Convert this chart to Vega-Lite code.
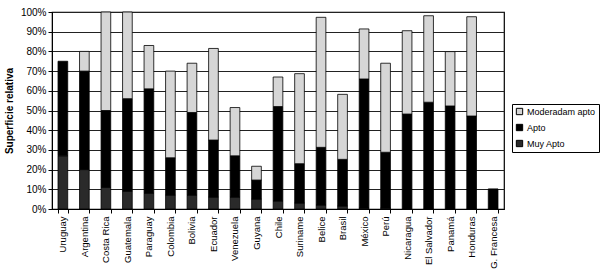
{
  "$schema": "https://vega.github.io/schema/vega-lite/v6.json",
  "autosize": {"type": "none"},
  "width": 452,
  "height": 197,
  "padding": {"left": 52, "top": 12, "right": 96, "bottom": 66},
  "background": "white",
  "config": {
    "font": "Liberation Sans",
    "view": {"stroke": "#000", "strokeWidth": 1.2}
  },
  "data": {"values": [
    {"pais": "Uruguay", "serie": "Muy Apto", "v": 27},
    {"pais": "Uruguay", "serie": "Apto", "v": 48},
    {"pais": "Uruguay", "serie": "Moderadam apto", "v": 0},
    {"pais": "Argentina", "serie": "Muy Apto", "v": 20},
    {"pais": "Argentina", "serie": "Apto", "v": 50},
    {"pais": "Argentina", "serie": "Moderadam apto", "v": 10},
    {"pais": "Costa Rica", "serie": "Muy Apto", "v": 11},
    {"pais": "Costa Rica", "serie": "Apto", "v": 39},
    {"pais": "Costa Rica", "serie": "Moderadam apto", "v": 50},
    {"pais": "Guatemala", "serie": "Muy Apto", "v": 9},
    {"pais": "Guatemala", "serie": "Apto", "v": 47},
    {"pais": "Guatemala", "serie": "Moderadam apto", "v": 44},
    {"pais": "Paraguay", "serie": "Muy Apto", "v": 8},
    {"pais": "Paraguay", "serie": "Apto", "v": 53},
    {"pais": "Paraguay", "serie": "Moderadam apto", "v": 22},
    {"pais": "Colombia", "serie": "Muy Apto", "v": 7},
    {"pais": "Colombia", "serie": "Apto", "v": 19},
    {"pais": "Colombia", "serie": "Moderadam apto", "v": 44},
    {"pais": "Bolivia", "serie": "Muy Apto", "v": 7},
    {"pais": "Bolivia", "serie": "Apto", "v": 42},
    {"pais": "Bolivia", "serie": "Moderadam apto", "v": 25},
    {"pais": "Ecuador", "serie": "Muy Apto", "v": 6},
    {"pais": "Ecuador", "serie": "Apto", "v": 29},
    {"pais": "Ecuador", "serie": "Moderadam apto", "v": 46.5},
    {"pais": "Venezuela", "serie": "Muy Apto", "v": 6},
    {"pais": "Venezuela", "serie": "Apto", "v": 21},
    {"pais": "Venezuela", "serie": "Moderadam apto", "v": 24.5},
    {"pais": "Guyana", "serie": "Muy Apto", "v": 5},
    {"pais": "Guyana", "serie": "Apto", "v": 9.7},
    {"pais": "Guyana", "serie": "Moderadam apto", "v": 7},
    {"pais": "Chile", "serie": "Muy Apto", "v": 4},
    {"pais": "Chile", "serie": "Apto", "v": 48},
    {"pais": "Chile", "serie": "Moderadam apto", "v": 15},
    {"pais": "Suriname", "serie": "Muy Apto", "v": 3},
    {"pais": "Suriname", "serie": "Apto", "v": 20},
    {"pais": "Suriname", "serie": "Moderadam apto", "v": 45.7},
    {"pais": "Belice", "serie": "Muy Apto", "v": 2},
    {"pais": "Belice", "serie": "Apto", "v": 29.3},
    {"pais": "Belice", "serie": "Moderadam apto", "v": 66},
    {"pais": "Brasil", "serie": "Muy Apto", "v": 1.5},
    {"pais": "Brasil", "serie": "Apto", "v": 23.7},
    {"pais": "Brasil", "serie": "Moderadam apto", "v": 33},
    {"pais": "México", "serie": "Muy Apto", "v": 0.5},
    {"pais": "México", "serie": "Apto", "v": 65.5},
    {"pais": "México", "serie": "Moderadam apto", "v": 25.4},
    {"pais": "Perú", "serie": "Muy Apto", "v": 0.5},
    {"pais": "Perú", "serie": "Apto", "v": 28.3},
    {"pais": "Perú", "serie": "Moderadam apto", "v": 45.2},
    {"pais": "Nicaragua", "serie": "Muy Apto", "v": 0},
    {"pais": "Nicaragua", "serie": "Apto", "v": 48.2},
    {"pais": "Nicaragua", "serie": "Moderadam apto", "v": 42.3},
    {"pais": "El Salvador", "serie": "Muy Apto", "v": 0},
    {"pais": "El Salvador", "serie": "Apto", "v": 54.2},
    {"pais": "El Salvador", "serie": "Moderadam apto", "v": 43.9},
    {"pais": "Panamá", "serie": "Muy Apto", "v": 0},
    {"pais": "Panamá", "serie": "Apto", "v": 52.3},
    {"pais": "Panamá", "serie": "Moderadam apto", "v": 27.6},
    {"pais": "Honduras", "serie": "Muy Apto", "v": 0},
    {"pais": "Honduras", "serie": "Apto", "v": 47.2},
    {"pais": "Honduras", "serie": "Moderadam apto", "v": 50.4},
    {"pais": "G. Francesa", "serie": "Muy Apto", "v": 0},
    {"pais": "G. Francesa", "serie": "Apto", "v": 10.2},
    {"pais": "G. Francesa", "serie": "Moderadam apto", "v": 0}
  ]},
  "transform": [
    {"filter": "datum.v > 0"},
    {"calculate": "indexof(['Muy Apto','Apto','Moderadam apto'], datum.serie)", "as": "orden"}
  ],
  "mark": {"type": "bar", "stroke": "#000", "strokeWidth": 0.8},
  "encoding": {
    "x": {
      "field": "pais", "type": "nominal", "sort": null,
      "scale": {"paddingInner": 0.55, "paddingOuter": 0.28},
      "axis": {
        "title": null, "labelAngle": -90, "labelFontSize": 9.5, "labelColor": "#000",
        "domainColor": "#000", "tickColor": "#000", "tickBand": "extent", "tickSize": 4,
        "labelPadding": 3
      }
    },
    "y": {
      "field": "v", "type": "quantitative", "stack": "zero",
      "scale": {"domain": [0, 100], "nice": false},
      "axis": {
        "title": "Superficie relativa", "titleFontSize": 10, "titleFontWeight": "bold",
        "titleColor": "#000", "titlePadding": 6,
        "values": [0, 10, 20, 30, 40, 50, 60, 70, 80, 90, 100],
        "labelExpr": "datum.value + '%'", "labelFontSize": 10, "labelColor": "#000",
        "grid": true, "gridColor": "#222", "gridWidth": 1,
        "domainColor": "#000", "tickColor": "#000", "tickSize": 4
      }
    },
    "color": {
      "field": "serie", "type": "nominal",
      "scale": {"domain": ["Moderadam apto", "Apto", "Muy Apto"], "range": ["#d6d6d6", "#000000", "#2a2a2a"]},
      "legend": {
        "title": null, "orient": "none", "legendX": 460, "legendY": 92,
        "direction": "vertical",
        "symbolType": "square", "symbolSize": 40, "symbolStrokeColor": "#000", "symbolStrokeWidth": 1,
        "labelFontSize": 9, "labelColor": "#000", "rowPadding": 5, "labelOffset": 3,
        "strokeColor": "#000", "padding": 3, "fillColor": "white"
      }
    },
    "order": {"field": "orden", "type": "quantitative"}
  }
}
